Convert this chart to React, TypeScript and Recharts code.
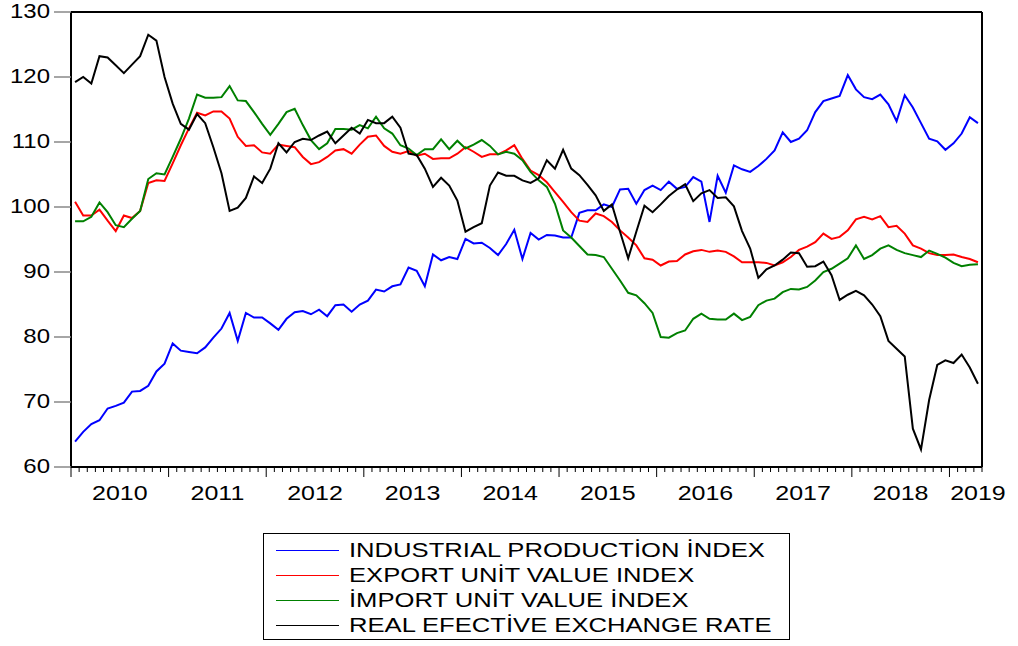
import React from 'react';
import { LineChart, Line, XAxis, YAxis, ReferenceLine } from 'recharts';

const FONT = '"Liberation Sans", Arial, Helvetica, sans-serif';

// monthly observations, 2010M01 .. 2019M04
const years = ['2010', '2011', '2012', '2013', '2014', '2015', '2016', '2017', '2018', '2019'];
const yearLabelPos = [6, 18, 30, 42, 54, 66, 78, 90, 102, 111.5];
const monthTicks = Array.from({ length: 113 }, (_, i) => i);
const yTicks = [60, 70, 80, 90, 100, 110, 120, 130];

const industrial = [
  63.9, 65.4, 66.6, 67.2, 69.0, 69.4, 69.9, 71.6, 71.7, 72.5, 74.7, 75.9,
  79.0, 77.9, 77.7, 77.5, 78.4, 79.9, 81.3, 83.7, 79.4, 83.7, 83.0, 83.0,
  82.1, 81.1, 82.8, 83.8, 84.0, 83.5, 84.2, 83.2, 84.9, 85.0, 83.9, 85.0,
  85.6, 87.3, 87.0, 87.8, 88.1, 90.7, 90.2, 87.8, 92.7, 91.8, 92.3, 92.0,
  95.1, 94.4, 94.5, 93.7, 92.6, 94.3, 96.5, 92.0, 96.0, 95.0, 95.7, 95.6,
  95.3, 95.3, 99.1, 99.5, 99.5, 100.4, 100.0, 102.7, 102.8, 100.5, 102.6, 103.3,
  102.6, 103.9, 102.8, 103.1, 104.6, 103.9, 97.7, 104.8, 102.2, 106.4, 105.8, 105.4,
  106.3, 107.4, 108.7, 111.5, 110.0, 110.5, 111.8, 114.6, 116.3, 116.7, 117.1, 120.3,
  118.1, 116.9, 116.6, 117.3, 115.8, 113.2, 117.2, 115.3, 112.9, 110.5, 110.1, 108.8,
  109.8, 111.3, 113.8, 112.9,
];

const exportUV = [
  100.8, 98.7, 98.7, 99.6, 97.9, 96.3, 98.7, 98.3, 99.4, 103.7, 104.1, 104.0,
  106.7, 109.5, 112.1, 114.5, 114.1, 114.7, 114.7, 113.6, 110.8, 109.4, 109.5, 108.4,
  108.2, 109.6, 109.4, 109.2, 107.7, 106.6, 106.9, 107.7, 108.7, 108.9, 108.2, 109.6,
  110.8, 111.0, 109.4, 108.5, 108.2, 108.6, 107.9, 108.2, 107.4, 107.5, 107.5, 108.2,
  109.2, 108.5, 107.7, 108.1, 108.1, 108.7, 109.5, 107.4, 105.6, 104.9, 103.8, 102.3,
  100.8, 99.2, 97.9, 97.7, 99.0, 98.6, 97.7, 96.4, 95.3, 94.1, 92.1, 91.9,
  91.0, 91.6, 91.7, 92.7, 93.2, 93.4, 93.1, 93.3, 93.1, 92.4, 91.5, 91.5,
  91.5, 91.4, 91.0, 91.5, 92.3, 93.4, 93.9, 94.6, 95.9, 95.1, 95.4, 96.4,
  98.1, 98.5, 98.1, 98.6, 96.9, 97.1, 95.9, 94.1, 93.6, 92.9, 92.6, 92.6,
  92.7, 92.3, 92.0, 91.5,
];

const importUV = [
  97.8, 97.8, 98.5, 100.7, 99.2, 97.2, 96.9, 98.2, 99.4, 104.3, 105.2, 105.0,
  107.7, 110.5, 113.6, 117.3, 116.8, 116.8, 116.9, 118.6, 116.4, 116.3, 114.6, 112.8,
  111.1, 112.8, 114.6, 115.1, 112.6, 110.3, 108.9, 109.8, 112.0, 112.0, 111.9, 112.6,
  112.1, 113.9, 112.1, 111.3, 109.5, 109.0, 108.0, 108.9, 108.9, 110.4, 108.9, 110.2,
  109.0, 109.6, 110.3, 109.4, 108.1, 108.5, 108.2, 107.2, 105.4, 104.1, 103.1, 100.5,
  96.4, 95.3, 94.0, 92.7, 92.6, 92.3, 90.5, 88.7, 86.8, 86.4, 85.2, 83.7,
  80.0, 79.9, 80.6, 81.0, 82.8, 83.6, 82.8, 82.7, 82.7, 83.6, 82.6, 83.1,
  84.9, 85.6, 85.9, 86.9, 87.4, 87.3, 87.7, 88.7, 90.0, 90.5, 91.3, 92.1,
  94.1, 92.0, 92.6, 93.6, 94.1, 93.4, 92.9, 92.6, 92.3, 93.3, 92.8, 92.2,
  91.4, 90.9, 91.1, 91.2,
];

const reer = [
  119.2, 120.0, 119.0, 123.2, 123.0, 121.8, 120.6, 121.9, 123.2, 126.5, 125.6, 120.0,
  115.9, 112.8, 111.9, 114.3, 112.9, 109.2, 105.2, 99.4, 99.9, 101.4, 104.7, 103.7,
  105.9, 109.8, 108.4, 110.0, 110.5, 110.3, 111.0, 111.6, 109.8, 111.0, 112.2, 111.3,
  113.4, 112.9, 112.9, 113.9, 112.2, 108.2, 108.0, 105.9, 103.1, 104.5, 103.3, 101.0,
  96.2, 96.9, 97.5, 103.3, 105.3, 104.8, 104.8, 104.1, 103.7, 104.4, 107.2, 105.9,
  108.8, 105.9, 104.9, 103.4, 101.8, 99.4, 100.4, 96.2, 92.1, 96.2, 100.2, 99.2,
  100.4, 101.7, 102.7, 103.5, 100.9, 102.1, 102.6, 101.4, 101.5, 100.1, 96.3, 93.6,
  89.1, 90.4, 91.0, 91.9, 93.0, 92.9, 90.8, 90.9, 91.6, 89.5, 85.7, 86.5,
  87.1, 86.4, 85.0, 83.2, 79.4, 78.2, 77.0, 65.9, 62.7, 70.3, 75.7, 76.4,
  76.0, 77.3, 75.3, 72.8,
];

const series = [
  { key: 'ip', name: 'INDUSTRIAL PRODUCTİON İNDEX', color: '#0000ff' },
  { key: 'ex', name: 'EXPORT UNİT VALUE INDEX', color: '#ff0000' },
  { key: 'im', name: 'İMPORT UNİT VALUE İNDEX', color: '#008000' },
  { key: 'reer', name: 'REAL EFECTİVE EXCHANGE RATE', color: '#000000' },
];

const data = industrial.map((v, i) => ({
  t: i + 0.5,
  ip: v,
  ex: exportUV[i],
  im: importUV[i],
  reer: reer[i],
}));

const xTicks = [...monthTicks, 111.5].sort((a, b) => a - b);

function XTick(props: any) {
  const { x, y, payload } = props;
  const v = payload.value as number;
  const li = yearLabelPos.indexOf(v);
  return (
    <g>
      {Number.isInteger(v) && (
        <line x1={x} x2={x} y1={y} y2={y + (v % 12 === 0 ? 10 : 5)} stroke="#000" strokeWidth={1} />
      )}
      {li >= 0 && (
        <text
          transform={`translate(${x},${y + 33}) scale(1.25,1)`}
          textAnchor="middle"
          fontSize={20}
          fontFamily={FONT}
          fill="#000"
        >
          {years[li]}
        </text>
      )}
    </g>
  );
}

function YTick(props: any) {
  const { x, y, payload } = props;
  return (
    <text
      transform={`translate(${x},${y + 5.7}) scale(1.2,1)`}
      textAnchor="end"
      fontSize={20}
      fontFamily={FONT}
      fill="#000"
    >
      {payload.value}
    </text>
  );
}

export default function App() {
  return (
    <div style={{ position: 'absolute', left: 0, top: 0, width: 1018, height: 646, background: '#fff' }}>
      <LineChart
        width={1018}
        height={646}
        data={data}
        margin={{ top: 12, right: 36, bottom: 139, left: 0 }}
      >
        <XAxis
          dataKey="t"
          type="number"
          domain={[0, 112]}
          ticks={xTicks}
          interval={0}
          tick={<XTick />}
          tickLine={false}
          tickSize={0}
          tickMargin={0}
          height={40}
          axisLine={{ stroke: '#000', strokeWidth: 2 }}
        />
        <YAxis
          type="number"
          domain={[60, 130]}
          ticks={yTicks}
          interval={0}
          width={71}
          tickSize={17}
          tickMargin={4}
          tickLine={{ stroke: '#888', strokeWidth: 1.5 }}
          tick={<YTick />}
          axisLine={{ stroke: '#000', strokeWidth: 2 }}
        />
        <ReferenceLine y={130} stroke="#000" strokeWidth={2} />
        <ReferenceLine x={112} stroke="#000" strokeWidth={2} />
        {series.map((s) => (
          <Line
            key={s.key}
            dataKey={s.key}
            name={s.name}
            stroke={s.color}
            strokeWidth={2}
            dot={false}
            type="linear"
            isAnimationActive={false}
          />
        ))}
      </LineChart>
      <div
        style={{
          position: 'absolute',
          left: 263,
          top: 533,
          width: 527,
          height: 107,
          border: '1.5px solid #000',
          boxSizing: 'border-box',
          fontFamily: FONT,
        }}
      >
        {series.map((s, i) => (
          <div
            key={s.key}
            style={{ position: 'absolute', left: 0, top: 4 + i * 25, height: 25, width: '100%' }}
          >
            <div
              style={{
                position: 'absolute',
                left: 12,
                top: 12,
                width: 63,
                height: 0,
                borderTop: `1.5px solid ${s.color}`,
              }}
            />
            <div
              style={{
                position: 'absolute',
                left: 85,
                top: 0,
                fontSize: 20,
                lineHeight: '25px',
                whiteSpace: 'nowrap',
                transform: 'scaleX(1.28)',
                transformOrigin: 'left center',
                color: '#000',
              }}
            >
              {s.name}
            </div>
          </div>
        ))}
      </div>
    </div>
  );
}
